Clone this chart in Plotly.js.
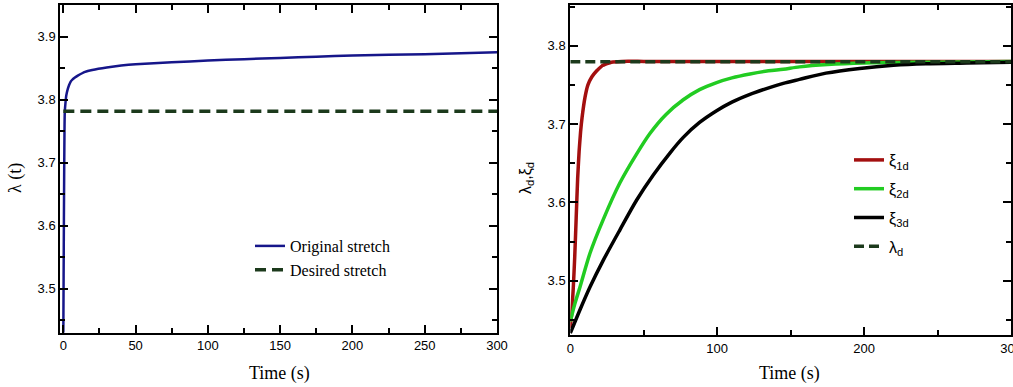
<!DOCTYPE html>
<html>
<head>
<meta charset="utf-8">
<script src="https://cdn.plot.ly/plotly-3.0.1.min.js"></script>
<style>html,body{margin:0;padding:0;background:#fff;}#chart{width:1013px;height:387px;}</style>
</head>
<body>
<div id="chart"></div>
<script>
// Left panel: original vs desired stretch
var tOrig = [0, 0.2, 0.4, 0.6, 0.8, 1, 1.5, 2, 3, 4, 5, 6, 8, 10, 15, 20, 30, 40, 50, 75, 100, 125, 150, 175, 200, 250, 300];
var lamOrig = [3.43, 3.52, 3.61, 3.69, 3.75, 3.78, 3.795, 3.806, 3.816, 3.823, 3.828, 3.831, 3.835, 3.838, 3.844, 3.847, 3.851, 3.854, 3.856, 3.859, 3.862, 3.864, 3.866, 3.868, 3.870, 3.872, 3.875];
var tDes = [0, 300];
var lamDes = [3.7815, 3.7815];

// Right panel: xi_1d, xi_2d, xi_3d, lambda_d
var tXi1 = [0, 1, 2, 3, 4, 5, 6, 7, 8, 10, 12, 14.6, 18, 21.4, 25, 28, 35, 50, 100, 150, 200, 250, 300];
var xi1 = [3.44, 3.46, 3.49, 3.53, 3.58, 3.63, 3.665, 3.69, 3.708, 3.734, 3.75, 3.76, 3.768, 3.774, 3.777, 3.779, 3.780, 3.780, 3.780, 3.780, 3.780, 3.780, 3.780];
var tXi2 = [0, 3, 6.6, 13.4, 22.4, 33.8, 45.2, 54.2, 65, 76.9, 88, 99.6, 110, 122.3, 135, 145, 156, 175, 200, 250, 300];
var xi2 = [3.448, 3.47, 3.492, 3.535, 3.578, 3.625, 3.662, 3.688, 3.712, 3.731, 3.744, 3.753, 3.759, 3.764, 3.768, 3.770, 3.773, 3.776, 3.778, 3.779, 3.780];
var tXi3 = [0, 6.6, 13.4, 22.4, 33.8, 45.2, 56.5, 67.8, 76.9, 88, 99.6, 110, 122.3, 133, 145, 156, 174, 197, 220, 242, 270, 300];
var xi3 = [3.433, 3.463, 3.492, 3.526, 3.565, 3.603, 3.635, 3.663, 3.683, 3.702, 3.717, 3.728, 3.738, 3.745, 3.752, 3.757, 3.765, 3.771, 3.775, 3.777, 3.778, 3.779];
var tLd = [0, 300];
var lamD = [3.7796, 3.7796];

var W = 1013, H = 387;
var tickFont = {family: 'Arial, Liberation Sans, sans-serif', size: 13, color: '#000'};
function px(x){return x / W;}
function py(y){return 1 - y / H;}

var traces = [
  {x: tOrig, y: lamOrig, type: 'scatter', mode: 'lines', name: 'Original stretch',
   line: {color: '#16168a', width: 2.5, shape: 'spline', smoothing: 0.4}, xaxis: 'x', yaxis: 'y', legend: 'legend'},
  {x: tDes, y: lamDes, type: 'scatter', mode: 'lines', name: 'Desired stretch',
   line: {color: '#1c3a1c', width: 3.5, dash: '11px,6px'}, xaxis: 'x', yaxis: 'y', legend: 'legend'},
  {x: tXi1, y: xi1, type: 'scatter', mode: 'lines', name: 'ξ<sub>1d</sub>', legendgroup: 'a',
   line: {color: '#a30f0f', width: 3.5, shape: 'spline', smoothing: 0.5}, xaxis: 'x2', yaxis: 'y2', legend: 'legend2'},
  {x: tXi2, y: xi2, type: 'scatter', mode: 'lines', name: 'ξ<sub>2d</sub>', legendgroup: 'b',
   line: {color: '#22cc22', width: 3.5, shape: 'spline', smoothing: 0.8}, xaxis: 'x2', yaxis: 'y2', legend: 'legend2'},
  {x: tXi3, y: xi3, type: 'scatter', mode: 'lines', name: 'ξ<sub>3d</sub>', legendgroup: 'c',
   line: {color: '#000000', width: 3.5, shape: 'spline', smoothing: 0.8}, xaxis: 'x2', yaxis: 'y2', legend: 'legend2'},
  {x: tLd, y: lamD, type: 'scatter', mode: 'lines', name: 'λ<sub>d</sub>', legendgroup: 'd',
   line: {color: '#1c3a1c', width: 3.5, dash: '10px,5px'}, xaxis: 'x2', yaxis: 'y2', legend: 'legend2'},
  // empty traces that carry the minor-tick overlay axes
  {x: [], y: [], type: 'scatter', mode: 'lines', showlegend: false, hoverinfo: 'skip', xaxis: 'x3', yaxis: 'y3'},
  {x: [], y: [], type: 'scatter', mode: 'lines', showlegend: false, hoverinfo: 'skip', xaxis: 'x4', yaxis: 'y4'}
];

var xDomL = [px(60.3), px(497)], yDomL = [py(332.7), py(5)];
var xDomR = [px(570.3), px(1011)], yDomR = [py(335), py(5.3)];
var xRangeL = [-2.1, 300], yRangeL = [3.43, 3.95];
var xRangeR = [0, 300], yRangeR = [3.4307, 3.8516];

function axis(extra){
  var a = {
    showgrid: false, zeroline: false, showline: true, linecolor: '#000', linewidth: 2,
    mirror: 'ticks', ticks: 'inside', ticklen: 8, tickwidth: 2, tickcolor: '#000',
    tickfont: tickFont, ticklabeloverflow: 'allow'
  };
  for (var k in extra) a[k] = extra[k];
  return a;
}
function minorAxis(extra){
  var a = {
    showgrid: false, zeroline: false, showline: false, showticklabels: false,
    mirror: 'ticks', ticks: 'inside', ticklen: 5, tickwidth: 2, tickcolor: '#000'
  };
  for (var k in extra) a[k] = extra[k];
  return a;
}

var layout = {
  width: W, height: H,
  margin: {l: 0, r: 0, t: 0, b: 0},
  paper_bgcolor: '#fff', plot_bgcolor: '#fff',
  showlegend: true,
  xaxis: axis({domain: xDomL, range: xRangeL, dtick: 50, tick0: 0, anchor: 'y'}),
  yaxis: axis({domain: yDomL, range: yRangeL, dtick: 0.1, tick0: 3.5, tickformat: '.1f', anchor: 'x'}),
  xaxis2: axis({domain: xDomR, range: xRangeR, dtick: 100, tick0: 0, anchor: 'y2'}),
  yaxis2: axis({domain: yDomR, range: yRangeR, dtick: 0.1, tick0: 3.5, tickformat: '.1f', anchor: 'x2'}),
  xaxis3: minorAxis({overlaying: 'x', anchor: 'y', range: xRangeL, tick0: 25, dtick: 50}),
  yaxis3: minorAxis({overlaying: 'y', anchor: 'x', range: yRangeL, tick0: 3.45, dtick: 0.1}),
  xaxis4: minorAxis({overlaying: 'x2', anchor: 'y2', range: xRangeR, tick0: 50, dtick: 100}),
  yaxis4: minorAxis({overlaying: 'y2', anchor: 'x2', range: yRangeR, tick0: 3.45, dtick: 0.1}),
  legend: {x: px(250), y: py(229), xanchor: 'left', yanchor: 'top', bgcolor: 'rgba(0,0,0,0)',
    font: {family: 'Liberation Serif, Times New Roman, serif', size: 16, color: '#000'}, tracegroupgap: 0},
  legend2: {x: px(849), y: py(143), xanchor: 'left', yanchor: 'top', bgcolor: 'rgba(0,0,0,0)',
    font: {family: 'Arial, Liberation Sans, sans-serif', size: 16, color: '#000'}, tracegroupgap: 5},
  annotations: [
    {text: 'Time (s)', xref: 'paper', yref: 'paper', x: px(279), y: py(373), xanchor: 'center', yanchor: 'middle', showarrow: false,
     font: {family: 'Liberation Serif, Times New Roman, serif', size: 18, color: '#000'}},
    {text: 'Time (s)', xref: 'paper', yref: 'paper', x: px(789), y: py(373), xanchor: 'center', yanchor: 'middle', showarrow: false,
     font: {family: 'Liberation Serif, Times New Roman, serif', size: 18, color: '#000'}},
    {text: 'λ (t)', xref: 'paper', yref: 'paper', x: px(15), y: py(178), xanchor: 'center', yanchor: 'middle', showarrow: false, textangle: -90,
     font: {family: 'Liberation Serif, Times New Roman, serif', size: 18, color: '#000'}},
    {text: 'λ<sub>d</sub>,ξ<sub>d</sub>', xref: 'paper', yref: 'paper', x: px(526), y: py(178), xanchor: 'center', yanchor: 'middle', showarrow: false, textangle: -90,
     font: {family: 'Arial, Liberation Sans, sans-serif', size: 16, color: '#000'}}
  ]
};

Plotly.newPlot('chart', traces, layout, {displayModeBar: false});
</script>
</body>
</html>
